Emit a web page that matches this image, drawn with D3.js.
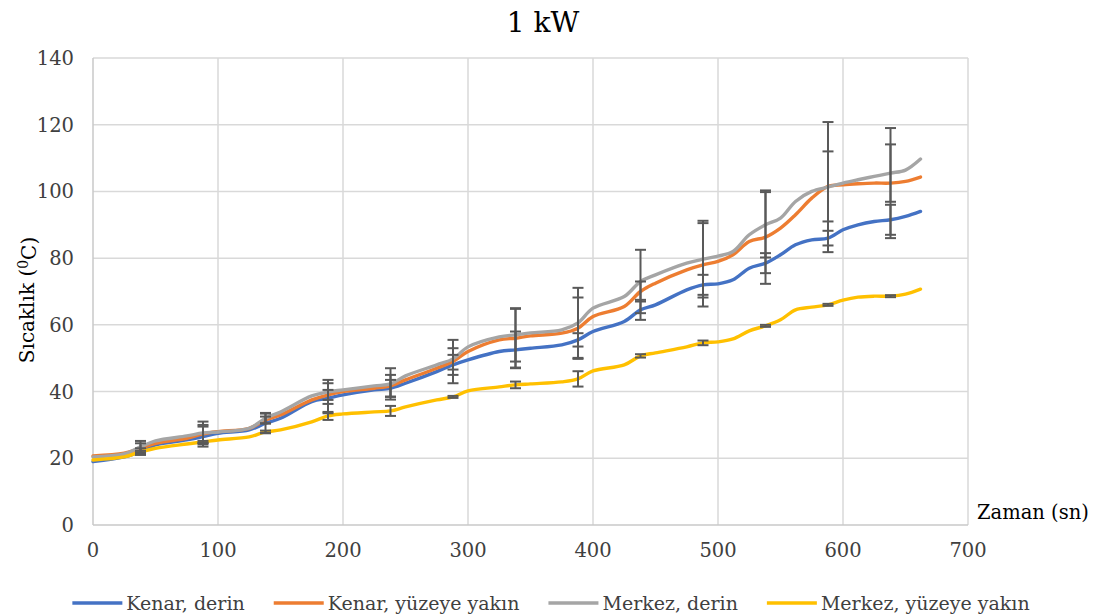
<!DOCTYPE html>
<html>
<head>
<meta charset="utf-8">
<script src="https://cdn.jsdelivr.net/npm/d3@7"></script>
<style>
  body { margin: 0; background: #fff; }
  text { font-family: "DejaVu Serif", serif; fill: #404040; }
</style>
</head>
<body>
<div id="chart"></div>
<script>

// --> DATA

var times = [0, 25, 38, 50, 75, 88, 100, 125, 138, 150, 175, 188, 200, 225, 238, 250, 275, 288, 300, 325,
    338, 350, 375, 388, 400, 425, 438, 450, 475, 488, 500, 512, 525, 538, 550, 562, 575, 588, 600, 612,
    625, 638, 650, 662];

var kenarDerin = [19, 20.4, 22, 24, 25.5, 26.5, 27.5, 28.5, 30.5, 32, 37, 38, 39, 40.5, 41, 42.5, 46, 48, 49.5, 52,
    52.5, 53, 54, 55.5, 58, 61, 64.5, 66, 70.5, 72, 72.3, 73.5, 77, 78.5, 81, 84, 85.5, 86, 88.5, 90,
    91, 91.5, 92.5, 94];

var kenarYuzey = [20.7, 21.5, 23, 24.5, 26, 27.3, 28, 29, 31.5, 33, 37.5, 39, 40, 41, 41.7, 43.5, 47, 49, 52, 55.5,
    56, 56.7, 57.5, 59, 62.5, 65.5, 70, 72.5, 76.5, 78, 79, 81, 85, 86.3, 89, 93, 98, 101.5, 102, 102.3,
    102.5, 102.5, 103, 104.3];

var merkezDerin = [20.4, 21.3, 23.4, 25.2, 26.7, 27.6, 27.9, 29, 32, 33.9, 38.7, 39.9, 40.5, 41.7, 42.3, 44.7, 48, 49.8, 53.4, 56.4,
    57, 57.6, 58.5, 60.6, 65, 68.5, 73, 75, 78.5, 79.7, 80.6, 82, 87, 90, 92, 97, 100, 101.3, 102.5, 103.5,
    104.5, 105.5, 106.4, 109.7];

var merkezYuzey = [19.5, 20.4, 21.9, 23, 24.3, 24.9, 25.5, 26.4, 27.9, 28.5, 30.9, 32.7, 33.3, 33.9, 34.2, 35.4, 37.5, 38.4, 40.2, 41.4,
    42, 42.3, 42.9, 43.8, 46.2, 48, 50.7, 51.6, 53.4, 54.6, 54.9, 55.8, 58.2, 59.7, 61.5, 64.5, 65.3, 66, 67.4, 68.3,
    68.6, 68.6, 69.2, 70.7];

// error bars sit at these times
var errTimes = [38, 88, 138, 188, 238, 288, 338, 388, 438, 488, 538, 588, 638];

var errKenarDerin = [1.0, 3.0, 2.9, 4.5, 2.5, 3.0, 5.5, 2.0, 3.0, 3.0, 3.0, 2.2, 4.5];
var errKenarYuzey = [1.5, 2.7, 1.0, 1.5, 3.3, 6.5, 8.8, 9.2, 3.0, 12.5, 14.0, 10.5, 16.5];
var errMerkezDerin = [1.8, 3.4, 1.6, 3.6, 4.7, 3.2, 8.0, 10.5, 9.5, 11.5, 9.8, 19.5, 8.6];
var errMerkezYuzey = [0.3, 0.3, 0.4, 1.2, 1.5, 0.3, 1.0, 2.3, 0.5, 0.7, 0.3, 0.3, 0.3];

var seriesNames = ["Kenar, derin", "Kenar, yüzeye yakın", "Merkez, derin", "Merkez, yüzeye yakın"];
var seriesColors = ["#4472c4", "#ed7d31", "#a5a5a5", "#ffc000"];

var xTicks = [0, 100, 200, 300, 400, 500, 600, 700];
var yTicks = [0, 20, 40, 60, 80, 100, 120, 140];

// --> CREATE SVG DRAWING AREA

var width = 1102,
    height = 616;

var svg = d3.select("#chart").append("svg")
    .attr("width", width)
    .attr("height", height);

var x = d3.scaleLinear()
    .domain([0, 700])
    .range([93, 968]);

var y = d3.scaleLinear()
    .domain([0, 140])
    .range([525, 58]);

var series = [kenarDerin, kenarYuzey, merkezDerin, merkezYuzey].map(function (vals, i) {
    return {
        name: seriesNames[i],
        color: seriesColors[i],
        values: vals.map(function (v, j) { return { t: times[j], v: v }; })
    };
});

var errors = [errKenarDerin, errKenarYuzey, errMerkezDerin, errMerkezYuzey];

// grid
svg.append("g").selectAll("line.h")
    .data(yTicks.slice(1))
    .enter().append("line")
    .attr("x1", x(0)).attr("x2", x(700))
    .attr("y1", function (d) { return y(d); })
    .attr("y2", function (d) { return y(d); })
    .style("stroke", "#d9d9d9")
    .style("stroke-width", 1.5);

svg.append("g").selectAll("line.v")
    .data(xTicks.slice(1))
    .enter().append("line")
    .attr("y1", y(0)).attr("y2", y(140))
    .attr("x1", function (d) { return x(d); })
    .attr("x2", function (d) { return x(d); })
    .style("stroke", "#d9d9d9")
    .style("stroke-width", 1.5);

// axis lines
svg.append("line")
    .attr("x1", x(0)).attr("x2", x(0))
    .attr("y1", y(0)).attr("y2", y(140))
    .style("stroke", "#c8c8c8").style("stroke-width", 1.5);
svg.append("line")
    .attr("x1", x(0)).attr("x2", x(700))
    .attr("y1", y(0)).attr("y2", y(0))
    .style("stroke", "#c8c8c8").style("stroke-width", 1.5);

// tick labels
svg.append("g").selectAll("text")
    .data(yTicks)
    .enter().append("text")
    .attr("x", 74)
    .attr("y", function (d) { return y(d); })
    .attr("dy", "0.36em")
    .attr("text-anchor", "end")
    .style("font-size", "19.5px")
    .text(function (d) { return d; });

svg.append("g").selectAll("text")
    .data(xTicks)
    .enter().append("text")
    .attr("x", function (d) { return x(d); })
    .attr("y", 557)
    .attr("text-anchor", "middle")
    .style("font-size", "19.5px")
    .text(function (d) { return d; });

// lines
var line = d3.line()
    .curve(d3.curveCatmullRom.alpha(0.5))
    .x(function (d) { return x(d.t); })
    .y(function (d) { return y(d.v); });

svg.append("g").selectAll("path")
    .data(series)
    .enter().append("path")
    .attr("d", function (d) { return line(d.values); })
    .style("fill", "none")
    .style("stroke", function (d) { return d.color; })
    .style("stroke-width", 3.4)
    .style("stroke-linecap", "round");

// error bars
var bars = [];
series.forEach(function (s, i) {
    errTimes.forEach(function (t, j) {
        var idx = times.indexOf(t);
        bars.push({ t: t, v: s.values[idx].v, e: errors[i][j] });
    });
});

var eb = svg.append("g").selectAll("g")
    .data(bars)
    .enter().append("g")
    .style("stroke", "#595959")
    .style("stroke-width", 2);

eb.append("line")
    .attr("x1", function (d) { return x(d.t); })
    .attr("x2", function (d) { return x(d.t); })
    .attr("y1", function (d) { return y(d.v - d.e); })
    .attr("y2", function (d) { return y(d.v + d.e); });

[-1, 1].forEach(function (sign) {
    eb.append("line")
        .attr("x1", function (d) { return x(d.t) - 5.5; })
        .attr("x2", function (d) { return x(d.t) + 5.5; })
        .attr("y1", function (d) { return y(d.v + sign * d.e); })
        .attr("y2", function (d) { return y(d.v + sign * d.e); });
});

// titles
svg.append("text")
    .attr("x", 543)
    .attr("y", 32)
    .attr("text-anchor", "middle")
    .style("font-size", "28px")
    .style("fill", "#000")
    .text("1 kW");

var yLabel = svg.append("text")
    .attr("transform", "translate(34,300) rotate(-90)")
    .attr("text-anchor", "middle")
    .style("font-size", "20px")
    .style("fill", "#000");
yLabel.append("tspan").text("Sıcaklık (");
yLabel.append("tspan").attr("dy", "-0.4em").style("font-size", "14px").text("0");
yLabel.append("tspan").attr("dy", "0.4em").text("C)");

svg.append("text")
    .attr("x", 977)
    .attr("y", 519)
    .style("font-size", "19.5px")
    .style("fill", "#000")
    .text("Zaman (sn)");

// legend
var legend = svg.append("g");
var lx = 0;
series.forEach(function (s, i) {
    var item = legend.append("g").attr("transform", "translate(" + lx + ",0)");
    item.append("line")
        .attr("x1", 0).attr("x2", 50)
        .attr("y1", 0).attr("y2", 0)
        .style("stroke", s.color)
        .style("stroke-width", 3.4);
    var t = item.append("text")
        .attr("x", 54)
        .attr("dy", "0.35em")
        .style("font-size", "19px")
        .text(s.name);
    lx += 54 + t.node().getComputedTextLength() + 29;
});
legend.attr("transform", "translate(" + (551 - (lx - 29) / 2) + ",603)");

</script>
</body>
</html>
